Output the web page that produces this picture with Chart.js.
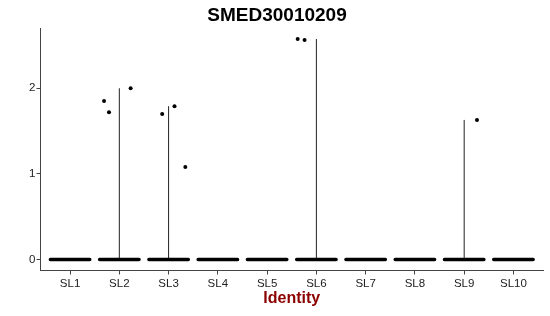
<!DOCTYPE html>
<html>
<head>
<meta charset="utf-8">
<script src="https://cdn.jsdelivr.net/npm/chart.js@4/dist/chart.umd.min.js"></script>
<style>
  html, body { margin: 0; padding: 0; background: #fff; }
  #wrap { width: 550px; height: 316px; }
</style>
</head>
<body>
<div id="wrap"><canvas id="vln" width="550" height="316"></canvas></div>
<script>
// 発現量のバイオリンプロット(SMED30010209)。ほぼ全細胞が 0 なので横帯＋細い縦線になる。
var TITLE = "SMED30010209";
var CATEGORIES = ["SL1", "SL2", "SL3", "SL4", "SL5", "SL6", "SL7", "SL8", "SL9", "SL10"];
var Y_TICKS = [0, 1, 2];

// 0 より大きい点(カテゴリ番号・横方向のジッター・値)
var PT_CAT = [2, 2, 2, 3, 3, 3, 6, 6, 9];
var PT_JIT = [-0.31, -0.21, 0.23, -0.13, 0.12, 0.34, -0.38, -0.24, 0.26];
var PT_VAL = [1.85, 1.72, 2.0, 1.70, 1.79, 1.08, 2.575, 2.565, 1.63];

(function () {
    "use strict";
    var canvas = document.getElementById("vln");
    var JW = 0.4;            // ジッター幅(0 の帯の半分の長さ)
    var AXIS = "#444";
    var FONT = "Liberation Sans, Arial";

    var maxOf = CATEGORIES.map(function (_, i) {
        var m = 0;
        PT_CAT.forEach(function (c, k) { if (c === i + 1 && PT_VAL[k] > m) m = PT_VAL[k]; });
        return m;
    });
    var top = Math.max.apply(null, maxOf);
    var pad = top * 0.05;

    // 縦線(バイオリンの幅がほぼ 0)
    var vlines = [];
    maxOf.forEach(function (m, i) {
        if (m <= 0) return;
        vlines.push({ x: i + 1, y: 0 }, { x: i + 1, y: m }, { x: i + 1, y: null });
    });
    // 0 の点が重なってできる帯
    var bands = [];
    CATEGORIES.forEach(function (_, i) {
        bands.push({ x: i + 1 - JW, y: 0 }, { x: i + 1 + JW, y: 0 }, { x: i + 1, y: null });
    });
    var pts = PT_CAT.map(function (c, k) { return { x: c + PT_JIT[k], y: PT_VAL[k] }; });

    // タイトルは少し右寄り(図全体の中央付近)に置く。
    var titlePlugin = {
        id: "vlnTitle",
        afterDraw: function (c) {
            var ctx = c.ctx;
            ctx.save();
            ctx.fillStyle = "#000";
            ctx.font = "bold 19px " + FONT;
            ctx.textAlign = "center";
            ctx.textBaseline = "middle";
            ctx.fillText(TITLE, 277, 15.5);
            ctx.restore();
        },
    };

    new Chart(canvas.getContext("2d"), {
        type: "scatter",
        data: {
            datasets: [
                { data: pts, order: 0, pointRadius: 2, pointHoverRadius: 2,
                  backgroundColor: "#000", borderWidth: 0 },
                { type: "line", data: bands, order: 1, borderColor: "#000", borderWidth: 3.5,
                  borderCapStyle: "round", pointRadius: 0, spanGaps: false },
                { type: "line", data: vlines, order: 2, borderColor: "#222", borderWidth: 1,
                  pointRadius: 0, spanGaps: false },
            ],
        },
        plugins: [titlePlugin],
        options: {
            responsive: false, animation: false, events: [],
            layout: { padding: { left: 0, right: 7, top: 28, bottom: 0 } },
            scales: {
                x: {
                    type: "linear", min: 0.4, max: CATEGORIES.length + 0.6,
                    afterBuildTicks: function (s) { s.ticks = CATEGORIES.map(function (_, i) { return { value: i + 1 }; }); },
                    afterFit: function (s) { s.height = 45.5; },
                    grid: { drawOnChartArea: false, drawTicks: true, tickLength: 4, color: AXIS },
                    border: { display: true, color: AXIS, width: 1 },
                    ticks: { padding: 2, color: "#222", font: { family: FONT, size: 11.5 },
                             maxRotation: 0, autoSkip: false,
                             callback: function (v) { return CATEGORIES[Math.round(v) - 1]; } },
                    title: { display: true, text: "Identity", color: "#8B0000", padding: { top: 0, bottom: 8 },
                             font: { family: FONT, size: 16, weight: "bold" } },
                },
                y: {
                    min: -pad, max: top + pad,
                    afterBuildTicks: function (s) { s.ticks = Y_TICKS.map(function (v) { return { value: v }; }); },
                    afterFit: function (s) { s.width = 40.5; },
                    grid: { drawOnChartArea: false, drawTicks: true, tickLength: 4, color: AXIS },
                    border: { display: true, color: AXIS, width: 1 },
                    ticks: { padding: 1, color: "#222", font: { family: FONT, size: 11.5 } },
                },
            },
            plugins: {
                legend: { display: false },
                tooltip: { enabled: false },
                title: { display: false },
            },
        },
    });
})();
</script>
</body>
</html>
